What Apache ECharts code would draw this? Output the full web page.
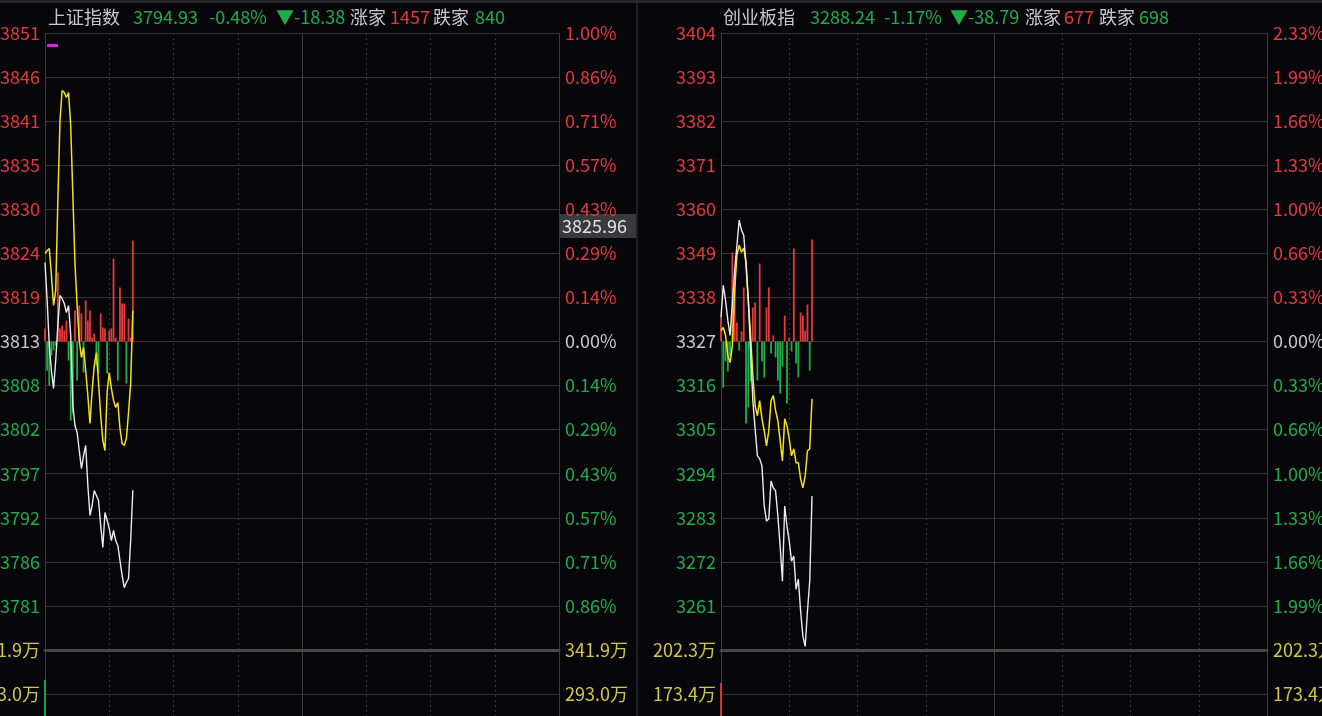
<!DOCTYPE html>
<html><head><meta charset="utf-8">
<script src="https://cdn.jsdelivr.net/npm/echarts@6/dist/echarts.min.js"></script>
<style>html,body{margin:0;padding:0;background:#06060b;}#c{width:1322px;height:716px;}</style>
</head><body><div id="c"></div>
<script>
// ---------- data ----------
const timeSlots = 240; // 9:30-11:30, 13:00-15:00

// 上证指数
const shName = '上证指数';
const shPrevClose = 3813.31;
const shRangePct = 1.00;
const shLast = 3794.93, shChange = -18.38, shChangePct = -0.48, shUp = 1457, shDown = 840;
const shPrice = [3823.07,3818.38,3812.82,3809.73,3807.50,3810.96,3815.29,3819.00,3818.62,3818.01,3816.89,3817.76,3814.05,3805.40,3802.93,3802.06,3799.84,3797.61,3799.22,3800.46,3795.51,3791.80,3793.04,3794.89,3794.28,3793.66,3790.57,3787.85,3792.17,3791.19,3790.20,3788.71,3789.95,3788.71,3788.10,3786.24,3784.39,3782.90,3783.52,3784.02,3788.71,3794.93];
const shLead = [3824.19,3824.56,3824.80,3821.47,3817.76,3819.61,3830.74,3840.63,3844.33,3844.09,3843.47,3844.09,3840.01,3831.36,3822.95,3817.76,3813.43,3811.33,3812.57,3809.73,3806.64,3803.17,3807.25,3810.34,3811.95,3808.24,3804.16,3801.07,3799.84,3807.01,3809.48,3807.50,3806.02,3805.15,3805.77,3802.56,3800.70,3800.46,3801.32,3804.53,3808.12,3817.14];
const shForce = [13,-29,-44,-14,-9,-4,69,13,16,11,21,-19,-79,-72,31,-39,36,28,-31,41,21,31,4,8,-24,-32,28,14,13,-32,11,13,83,4,-39,54,38,38,-42,23,4,101];
const shVolume = [308.9]; // 万
const shVolTop = 341.9;

// 创业板指
const cyName = '创业板指';
const cyPrevClose = 3327.03;
const cyRangePct = 2.326;
const cyLast = 3288.24, cyChange = -38.79, cyChangePct = -1.17, cyUp = 677, cyDown = 698;
const cyPrice = [3333.07,3341.12,3337.35,3332.31,3328.54,3336.59,3344.89,3351.18,3357.47,3354.96,3353.70,3346.15,3337.35,3324.77,3312.19,3305.14,3298.35,3297.59,3295.83,3285.77,3281.99,3282.50,3292.06,3290.30,3289.54,3283.25,3275.70,3266.90,3285.77,3280.74,3276.96,3271.93,3273.19,3264.88,3267.40,3259.35,3253.06,3250.54,3259.35,3266.90,3288.24];
const cyLead = [3329.80,3330.55,3328.54,3323.51,3321.75,3326.02,3339.86,3348.67,3351.18,3349.42,3350.43,3346.91,3337.35,3328.54,3318.48,3310.93,3308.41,3312.19,3307.66,3304.64,3300.86,3304.64,3312.19,3313.44,3309.67,3307.15,3302.12,3297.09,3307.66,3305.90,3302.62,3298.35,3300.11,3296.59,3296.59,3292.56,3290.30,3293.32,3299.61,3300.11,3312.69];
const cyForce = [24,-46,-20,-30,-15,89,60,19,-9,10,54,-82,-66,-40,34,39,-39,78,-20,-36,34,54,-12,6,-16,-39,-52,-25,26,-62,4,-10,93,-22,-36,29,26,11,37,-29,102];
const cyVolume = [180.8]; // 万
const cyVolTop = 202.3;

const cursorPrice = 3825.96;

// ---------- style ----------
const FONT = '"Noto Sans CJK SC","Noto Sans",sans-serif';
const C = {bg:'#06060b', grid:'#363636', up:'#e5393b', down:'#1fae48', flat:'#c8c8c8',
           vol:'#d2c74a', white:'#ececec', yellow:'#f2e21c', title:'#c8c8c8'};
const forceLimit = 308.5;

const panels = [
  {name:shName, prev:shPrevClose, pct:shRangePct, last:shLast, chg:shChange, chgPct:shChangePct, up:shUp, down:shDown,
   price:shPrice, lead:shLead, force:shForce, volume:shVolume, volTop:shVolTop, volColor:C.down,
   left:45, width:514, hx:[48,133,209,276,350,390,433,475]},
  {name:cyName, prev:cyPrevClose, pct:cyRangePct, last:cyLast, chg:cyChange, chgPct:cyChangePct, up:cyUp, down:cyDown,
   price:cyPrice, lead:cyLead, force:cyForce, volume:cyVolume, volTop:cyVolTop, volColor:C.up,
   left:721, width:546, hx:[723,810,884,950,1025,1064,1099,1139]}
];

const option = {backgroundColor:C.bg, animation:false, grid:[], xAxis:[], yAxis:[], series:[], graphic:[]};

function addX(grid, thick){
  const idx = option.xAxis.length;
  option.xAxis.push({type:'value', gridIndex:grid, position:'bottom', min:0, max:timeSlots, interval:30,
    axisLabel:{show:false}, axisTick:{show:false},
    axisLine:{show:!!thick, onZero:false, lineStyle:{color:'#474747', width:3}},
    splitLine:{show:true, lineStyle:{color:C.grid, type:[2,3], width:1}}});
  option.xAxis.push({type:'value', gridIndex:grid, position:'top', min:0, max:timeSlots, interval:120,
    axisLabel:{show:false}, axisTick:{show:false}, axisLine:{show:false, onZero:false},
    splitLine:{show:true, lineStyle:{color:'#3c3c3c', width:1}}});
  return idx;
}
const sideColor = v => (v > 0 ? C.up : (v < 0 ? C.down : C.flat));
const volFmt = x => (Math.floor(x * 10 + 1e-6) / 10).toFixed(1) + '万';

panels.forEach(p => {
  const gP = option.grid.length;
  option.grid.push({left:p.left, top:33, width:p.width, height:617, containLabel:false, outerBoundsMode:'none'});
  const gV = option.grid.length;
  option.grid.push({left:p.left, top:650, width:p.width, height:308.6, containLabel:false, outerBoundsMode:'none'});
  const step = p.prev * p.pct / 100 / 7;
  const volStep = p.volTop / 7;
  const xP = addX(gP, true);
  const xV = addX(gV, false);

  const lab = {fontSize:18, fontFamily:FONT, showMinLabel:true, showMaxLabel:true};
  const yPrice = option.yAxis.length;
  option.yAxis.push({type:'value', gridIndex:gP, position:'left', min:-7, max:7, interval:1,
    axisLine:{show:false}, axisTick:{show:false},
    splitLine:{show:true, lineStyle:{color:C.grid, width:1}},
    axisLabel:Object.assign({}, lab, {margin:5,
      formatter: v => (Math.round(v) === -7 ? '' : (p.prev + v * step).toFixed(0)),
      color: v => sideColor(Math.round(Number(v)))})});
  option.yAxis.push({type:'value', gridIndex:gP, position:'right', min:-7, max:7, interval:1,
    axisLine:{show:false}, axisTick:{show:false}, splitLine:{show:false},
    axisLabel:Object.assign({}, lab, {margin:6,
      formatter: v => (Math.round(v) === -7 ? '' : Math.abs(v * p.pct / 7).toFixed(2) + '%'),
      color: v => sideColor(Math.round(Number(v)))})});
  const yForce = option.yAxis.length;
  option.yAxis.push({type:'value', gridIndex:gP, min:-forceLimit, max:forceLimit, show:false});
  const yVol = option.yAxis.length;
  option.yAxis.push({type:'value', gridIndex:gV, position:'left', min:0, max:7, interval:1,
    axisLine:{show:false}, axisTick:{show:false},
    splitLine:{show:true, lineStyle:{color:C.grid, width:1}},
    axisLabel:Object.assign({}, lab, {margin:5, color:C.vol, formatter: v => volFmt(v * volStep)})});
  option.yAxis.push({type:'value', gridIndex:gV, position:'right', min:0, max:7, interval:1,
    axisLine:{show:false}, axisTick:{show:false}, splitLine:{show:false},
    axisLabel:Object.assign({}, lab, {margin:6, color:C.vol, formatter: v => volFmt(v * volStep)})});

  option.series.push({type:'bar', xAxisIndex:xP, yAxisIndex:yForce, barWidth:1.8, z:2, silent:true,
    data:p.force.map((v,i)=>[i,v]),
    itemStyle:{color: prm => (prm.value[1] >= 0 ? C.up : C.down)}});
  option.series.push({type:'line', xAxisIndex:xP, yAxisIndex:yPrice, z:3, symbol:'none', silent:true,
    data:p.lead.map((v,i)=>[i,(v - p.prev)/step]), lineStyle:{color:C.yellow, width:1.5}});
  option.series.push({type:'line', xAxisIndex:xP, yAxisIndex:yPrice, z:4, symbol:'none', silent:true,
    data:p.price.map((v,i)=>[i,(v - p.prev)/step]), lineStyle:{color:C.white, width:1.4}});
  option.series.push({type:'bar', xAxisIndex:xV, yAxisIndex:yVol, barWidth:1.8, silent:true,
    data:p.volume.map((v,i)=>[i, v / volStep]), itemStyle:{color:p.volColor}});

  const texts = [
    [p.name, C.title],
    [p.last.toFixed(2), C.down],
    [p.chgPct.toFixed(2) + '%', C.down],
    ['▼' + p.chg.toFixed(2), C.down],
    ['涨家', C.title],
    [String(p.up), C.up],
    ['跌家', C.title],
    [String(p.down), C.down]
  ];
  texts.forEach((t, k) => option.graphic.push({type:'text', x:p.hx[k], y:17,
    style:{text:t[0], fill:t[1], fontSize:18, fontFamily:FONT, verticalAlign:'middle'}}));
});

// decorations
option.graphic.push({type:'rect', shape:{x:0, y:0, width:1322, height:3}, style:{fill:'#262628'}});
option.graphic.push({type:'line', shape:{x1:637, y1:0, x2:637, y2:716}, style:{stroke:'#3a3a3a', lineWidth:1}});
option.graphic.push({type:'rect', shape:{x:47, y:44, width:11, height:3}, style:{fill:'#e01ee0'}});
option.graphic.push({type:'group', x:560, y:214, children:[
  {type:'rect', shape:{x:0, y:0, width:76, height:24}, style:{fill:'#3a3a3c'}},
  {type:'text', x:2, y:12, style:{text:cursorPrice.toFixed(2), fill:'#e2e2e2', fontSize:18, fontFamily:FONT, verticalAlign:'middle'}}
]});

const chart = echarts.init(document.getElementById('c'), null, {renderer:'canvas'});
chart.setOption(option);
</script></body></html>
